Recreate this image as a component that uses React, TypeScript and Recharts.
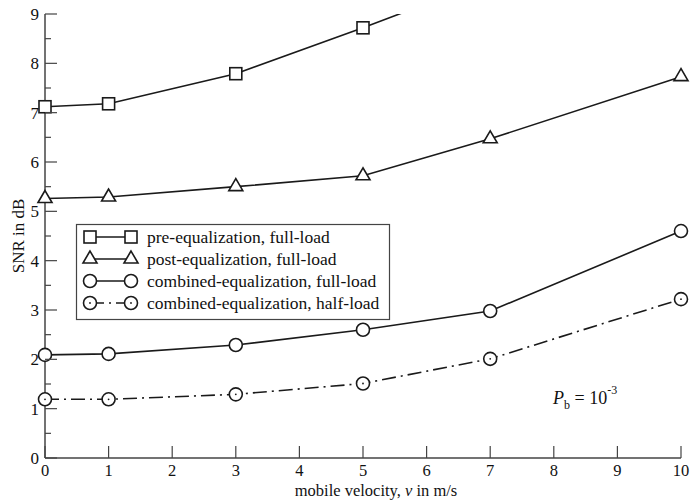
import React from 'react';
import { LineChart, Line, XAxis, YAxis } from 'recharts';

// mobile velocity v (m/s)
const velocity = [0, 1, 3, 5, 7, 10];
// SNR in dB for Pb = 1e-3
const preEqFull = [7.12, 7.18, 7.79, 8.72, 9.7, null];
const postEqFull = [5.26, 5.29, 5.5, 5.72, 6.47, 7.73];
const combinedFull = [2.09, 2.11, 2.29, 2.6, 2.98, 4.6];
const combinedHalf = [1.19, 1.19, 1.29, 1.51, 2.01, 3.22];

const xTicks = [0, 1, 2, 3, 4, 5, 6, 7, 8, 9, 10];
const yTicks = [0, 0.5, 1, 1.5, 2, 2.5, 3, 3.5, 4, 4.5, 5, 5.5, 6, 6.5, 7, 7.5, 8, 8.5, 9];

const legendNames = [
  'pre-equalization, full-load',
  'post-equalization, full-load',
  'combined-equalization, full-load',
  'combined-equalization, half-load'
];

const data = velocity.map((v, i) => ({
  v,
  pre: preEqFull[i],
  preMark: preEqFull[i] !== null && (preEqFull[i] as number) <= 9 ? preEqFull[i] : null,
  post: postEqFull[i],
  comb: combinedFull[i],
  half: combinedHalf[i]
}));

const INK = '#1a1a1a';
const FRAME = '#444';
const FONT = '"Liberation Serif", "DejaVu Serif", serif';
const DASH = '14 5 2 5';

type Shape = 'square' | 'triangle' | 'circle';

const Marker = ({ cx, cy, shape, dotted }: { cx?: number; cy?: number; shape: Shape; dotted?: boolean }) => {
  if (cx == null || cy == null || isNaN(cx) || isNaN(cy)) return null;
  const common = { fill: '#fff', stroke: INK, strokeWidth: 1.6 };
  if (shape === 'square') return <rect x={cx - 6} y={cy - 6} width={12} height={12} {...common} />;
  if (shape === 'triangle')
    return <polygon points={`${cx},${cy - 8} ${cx - 7},${cy + 4} ${cx + 7},${cy + 4}`} {...common} />;
  return (
    <g>
      <circle cx={cx} cy={cy} r={6.5} {...common} />
      {dotted && <circle cx={cx} cy={cy} r={0.9} fill={INK} />}
    </g>
  );
};

const dotFor = (shape: Shape, dotted?: boolean) => (p: any) =>
  <Marker key={`${shape}-${dotted ? 'h' : 'f'}-${p.index}`} cx={p.cx} cy={p.cy} shape={shape} dotted={dotted} />;

const LeftTick = (p: any) => {
  const major = Number.isInteger(p.payload.value);
  return (
    <g>
      <line x1={p.x + 6} y1={p.y} x2={p.x + 6 + (major ? 12 : 6)} y2={p.y} stroke={FRAME} strokeWidth={1.2} />
      {major && (
        <text x={p.x} y={p.y} dy="0.35em" textAnchor="end" fontSize={17} fontFamily={FONT} fill="#111">
          {p.payload.value}
        </text>
      )}
    </g>
  );
};

const RightTick = (p: any) => {
  const major = Number.isInteger(p.payload.value);
  return <line x1={p.x} y1={p.y} x2={p.x - (major ? 12 : 6)} y2={p.y} stroke={FRAME} strokeWidth={1.2} />;
};

const BottomTick = (p: any) => (
  <g>
    <line x1={p.x} y1={p.y - 6} x2={p.x} y2={p.y - 18} stroke={FRAME} strokeWidth={1.2} />
    <text x={p.x} y={p.y} dy="0.71em" textAnchor="middle" fontSize={16.5} fontFamily={FONT} fill="#111">
      {p.payload.value}
    </text>
  </g>
);

const TopTick = (p: any) => <line x1={p.x} y1={p.y} x2={p.x} y2={p.y + 12} stroke={FRAME} strokeWidth={1.2} />;

const shapes: Shape[] = ['square', 'triangle', 'circle', 'circle'];

export default function App() {
  const axisLine = { stroke: FRAME, strokeWidth: 1.5 };
  return (
    <div style={{ position: 'absolute', left: 0, top: 0, width: 691, height: 500, background: '#fff', fontFamily: FONT }}>
      <LineChart width={691} height={500} data={data} margin={{ top: 14, right: 10, bottom: 0, left: 0 }}>
        <XAxis xAxisId="b" dataKey="v" type="number" domain={[0, 10]} ticks={xTicks} interval={0}
          height={42} tickSize={0} tickMargin={6} tickLine={false} axisLine={axisLine} tick={<BottomTick />} />
        <XAxis xAxisId="t" orientation="top" dataKey="v" type="number" domain={[0, 10]} ticks={xTicks} interval={0}
          height={0} tickSize={0} tickMargin={0} tickLine={false} axisLine={axisLine} tick={<TopTick />} />
        <YAxis yAxisId="l" type="number" domain={[0, 9]} ticks={yTicks} interval={0}
          width={45} tickSize={0} tickMargin={6} tickLine={false} axisLine={axisLine} tick={<LeftTick />} />
        <YAxis yAxisId="r" orientation="right" type="number" domain={[0, 9]} allowDataOverflow ticks={yTicks} interval={0}
          width={0} tickSize={0} tickMargin={0} tickLine={false} axisLine={axisLine} tick={<RightTick />} />

        <Line xAxisId="t" yAxisId="r" dataKey="pre" stroke={INK} strokeWidth={1.6} dot={false} isAnimationActive={false} />
        <Line xAxisId="b" yAxisId="l" dataKey="preMark" stroke="none" dot={dotFor('square')} activeDot={false} isAnimationActive={false} />
        <Line xAxisId="b" yAxisId="l" dataKey="post" stroke={INK} strokeWidth={1.6} dot={dotFor('triangle')} activeDot={false} isAnimationActive={false} />
        <Line xAxisId="b" yAxisId="l" dataKey="comb" stroke={INK} strokeWidth={1.6} dot={dotFor('circle')} activeDot={false} isAnimationActive={false} />
        <Line xAxisId="b" yAxisId="l" dataKey="half" stroke={INK} strokeWidth={1.6} strokeDasharray={DASH} dot={dotFor('circle', true)} activeDot={false} isAnimationActive={false} />
      </LineChart>

      <svg width={691} height={500} style={{ position: 'absolute', left: 0, top: 0, pointerEvents: 'none' }}>
        <rect x={76.5} y={224.5} width={313} height={95} fill="#fff" stroke={FRAME} strokeWidth={1.2} />
        {legendNames.map((name, i) => {
          const y = 237 + i * 22;
          return (
            <g key={name}>
              <line x1={90} y1={y} x2={131} y2={y} stroke={INK} strokeWidth={1.6} strokeDasharray={i === 3 ? DASH : undefined} />
              <Marker cx={90} cy={y} shape={shapes[i]} dotted={i === 3} />
              <Marker cx={131} cy={y} shape={shapes[i]} dotted={i === 3} />
              <text x={147} y={y} dy="0.35em" fontSize={17.5} fontFamily={FONT} fill="#111">{name}</text>
            </g>
          );
        })}

        <text x={553} y={404} fontSize={18} fontFamily={FONT} fill="#111">
          <tspan fontStyle="italic">P</tspan>
          <tspan fontSize={12} dy={5}>b</tspan>
          <tspan dy={-5}> = 10</tspan>
          <tspan fontSize={12} dy={-10}>-3</tspan>
        </text>

        <text x={376} y={496} textAnchor="middle" fontSize={16.5} fontFamily={FONT} fill="#111">
          mobile velocity, <tspan fontStyle="italic">v</tspan> in m/s
        </text>
        <text x={0} y={0} transform="translate(24,236) rotate(-90)" textAnchor="middle" fontSize={17} fontFamily={FONT} fill="#111">
          SNR in dB
        </text>
      </svg>
    </div>
  );
}
